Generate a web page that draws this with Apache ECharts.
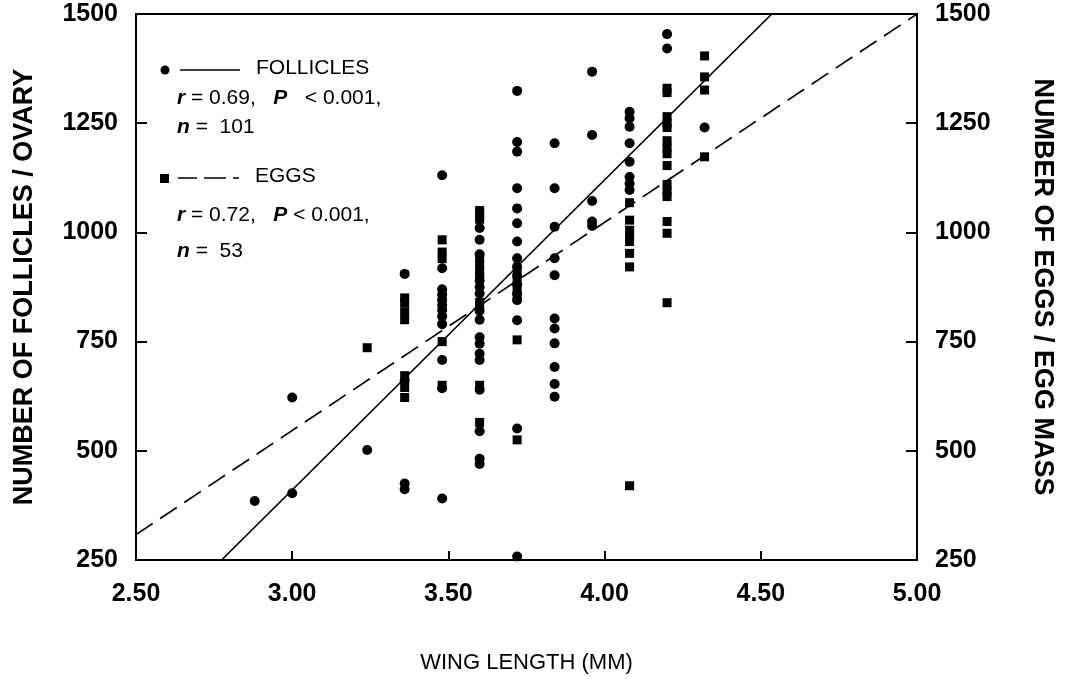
<!DOCTYPE html>
<html>
<head>
<meta charset="utf-8">
<script src="https://cdn.jsdelivr.net/npm/echarts@6/dist/echarts.min.js"></script>
<style>
html,body{margin:0;padding:0;background:#fff;}
#chart{width:1069px;height:679px;}
</style>
</head>
<body>
<div id="chart"></div>
<script>
// ---- data ----
const xTicks = [2.5, 3.0, 3.5, 4.0, 4.5, 5.0];
const yTicks = [250, 500, 750, 1000, 1250, 1500];

const follicles = [
  [2.88,385],
  [3.00,622],[3.00,403],
  [3.24,502],
  [3.36,905],[3.36,660],[3.36,425],[3.36,412],
  [3.48,1131],[3.48,918],[3.48,870],[3.48,858],[3.48,846],[3.48,834],[3.48,822],[3.48,808],[3.48,790],[3.48,708],[3.48,643],[3.48,391],
  [3.60,1010],[3.60,983],[3.60,950],[3.60,890],[3.60,875],[3.60,860],[3.60,820],[3.60,800],[3.60,760],[3.60,745],[3.60,722],[3.60,708],[3.60,640],[3.60,545],[3.60,482],[3.60,470],
  [3.72,1324],[3.72,1207],[3.72,1185],[3.72,1101],[3.72,1055],[3.72,1021],[3.72,979],[3.72,941],[3.72,922],[3.72,900],[3.72,880],[3.72,860],[3.72,845],[3.72,799],[3.72,551],[3.72,258],
  [3.84,1204],[3.84,1101],[3.84,1013],[3.84,941],[3.84,902],[3.84,803],[3.84,780],[3.84,746],[3.84,692],[3.84,653],[3.84,624],
  [3.96,1368],[3.96,1223],[3.96,1072],[3.96,1025],[3.96,1015],
  [4.08,1276],[4.08,1261],[4.08,1242],[4.08,1204],[4.08,1162],[4.08,1127],[4.08,1112],[4.08,1097],
  [4.20,1454],[4.20,1421],
  [4.32,1240]
];

const eggs = [
  [3.24,736],
  [3.36,850],[3.36,838],[3.36,818],[3.36,800],[3.36,672],[3.36,645],[3.36,622],
  [3.48,983],[3.48,955],[3.48,940],[3.48,750],[3.48,650],
  [3.60,1050],[3.60,1040],[3.60,1030],[3.60,940],[3.60,925],[3.60,910],[3.60,900],[3.60,840],[3.60,830],[3.60,650],[3.60,565],
  [3.72,910],[3.72,890],[3.72,870],[3.72,850],[3.72,754],[3.72,525],
  [4.08,1068],[4.08,1028],[4.08,1005],[4.08,990],[4.08,979],[4.08,952],[4.08,921],[4.08,420],
  [4.20,1330],[4.20,1320],[4.20,1265],[4.20,1250],[4.20,1240],[4.20,1210],[4.20,1195],[4.20,1180],[4.20,1153],[4.20,1110],[4.20,1095],[4.20,1082],[4.20,1025],[4.20,998],[4.20,839],
  [4.32,1404],[4.32,1356],[4.32,1326],[4.32,1173]
];

// regression line endpoints as drawn
const follicleLine = [[2.774,250],[4.535,1500]];
const eggLine = [[2.5,308],[5.0,1500]];

const legendTexts = {
  follName: 'FOLLICLES',
  follStat: '{i|r} = 0.69,   {i|P}   < 0.001,',
  follN: '{i|n} =  101',
  eggName: 'EGGS',
  eggStat: '{i|r} = 0.72,   {i|P} < 0.001,',
  eggN: '{i|n} =  53'
};

const xName = 'WING LENGTH (MM)';
const yLeftName = 'NUMBER OF FOLLICLES / OVARY';
const yRightName = 'NUMBER OF EGGS / EGG MASS';

// ---- chart ----
const FONT = '"Liberation Sans", Arial, Helvetica, sans-serif';
const chart = echarts.init(document.getElementById('chart'), null, {renderer:'canvas'});

const axisLineStyle = {color:'#000', width:2};
const tickLabel = {color:'#000', fontFamily:FONT, fontSize:25, fontWeight:'bold'};

function yAxisCfg(pos, name, gap, rot) {
  return {
    type:'value', position:pos, min:yTicks[0], max:yTicks[yTicks.length-1], interval:250,
    name:name, nameLocation:'middle', nameGap:gap, nameRotate:rot,
    nameTextStyle:{color:'#000', fontFamily:FONT, fontSize:27, fontWeight:'bold'},
    axisLine:{show:true, onZero:false, lineStyle:axisLineStyle},
    axisTick:{show:true, inside:true, length:11, lineStyle:{color:'#000', width:2}},
    axisLabel:Object.assign({margin:18, showMinLabel:true, showMaxLabel:true, formatter:v=>String(v)}, tickLabel),
    splitLine:{show:false}
  };
}

const richItalic = {i:{fontStyle:'italic', fontWeight:'bold', fontFamily:FONT, fontSize:21, fill:'#000'}};
function txt(x, y, s) {
  return {type:'text', left:x, top:y - 12, style:{text:s, fill:'#000', fontFamily:FONT, fontSize:21, rich:richItalic}};
}

const option = {
  backgroundColor:'#fff',
  animation:false,
  grid:{left:136, right:152, top:14, bottom:119, show:true, borderColor:'#000', borderWidth:2, backgroundColor:'transparent'},
  xAxis:{
    type:'value', min:xTicks[0], max:xTicks[xTicks.length-1], interval:0.5,
    name:xName, nameLocation:'middle', nameGap:92,
    nameTextStyle:{color:'#000', fontFamily:FONT, fontSize:22},
    axisLine:{show:true, onZero:false, lineStyle:axisLineStyle},
    axisTick:{show:true, inside:true, length:9, lineStyle:{color:'#000', width:2}},
    axisLabel:Object.assign({margin:22, showMinLabel:true, showMaxLabel:true, formatter:v=>v.toFixed(2)}, tickLabel),
    splitLine:{show:false}
  },
  yAxis:[ yAxisCfg('left', yLeftName, 98, 90), yAxisCfg('right', yRightName, 112, -90) ],
  series:[
    {type:'scatter', name:'Follicles', yAxisIndex:0, data:follicles, symbol:'circle', symbolSize:10,
     itemStyle:{color:'#000', opacity:1}, z:3},
    {type:'scatter', name:'Eggs', yAxisIndex:1, data:eggs, symbol:'rect', symbolSize:9,
     itemStyle:{color:'#000', opacity:1}, z:3},
    {type:'line', yAxisIndex:0, data:follicleLine, symbol:'none', lineStyle:{color:'#000', width:1.7, opacity:1}, z:2},
    {type:'line', yAxisIndex:1, data:eggLine, symbol:'none', lineStyle:{color:'#000', width:1.7, opacity:1, type:[20,9]}, z:2}
  ],
  graphic:[
    {type:'circle', shape:{cx:165, cy:70, r:4.5}, style:{fill:'#000'}},
    {type:'line', shape:{x1:180, y1:70, x2:240, y2:70}, style:{stroke:'#000', lineWidth:1.7}},
    txt(256, 70, legendTexts.follName),
    txt(177, 100, legendTexts.follStat),
    txt(177, 129, legendTexts.follN),
    {type:'rect', shape:{x:160, y:174, width:9, height:9}, style:{fill:'#000'}},
    {type:'line', shape:{x1:178, y1:178, x2:242, y2:178}, style:{stroke:'#000', lineWidth:1.7, lineDash:[19,7,22,7,6]}},
    txt(255, 178, legendTexts.eggName),
    txt(177, 217, legendTexts.eggStat),
    txt(177, 253, legendTexts.eggN)
  ]
};
chart.setOption(option);
</script>
</body>
</html>
